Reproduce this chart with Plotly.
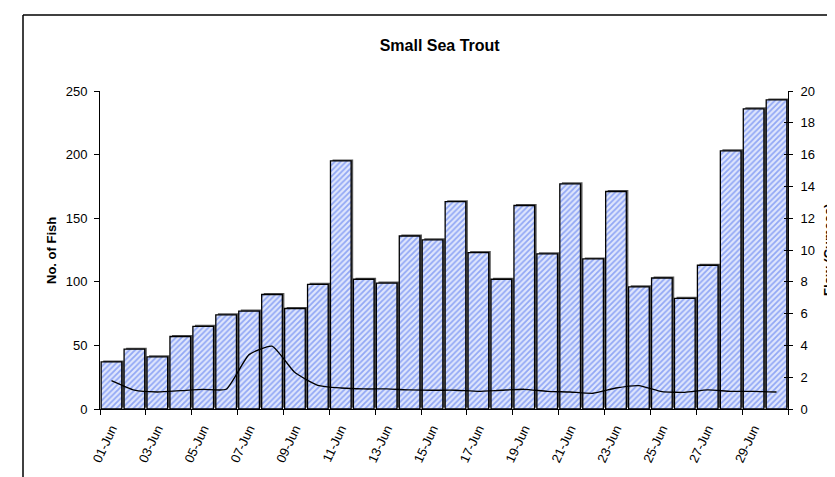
import plotly.graph_objects as go

days = [f"{d:02d}-Jun" for d in range(1, 31)]
fish = [37, 47, 41, 57, 65, 74, 77, 90, 79, 98,
        195, 102, 99, 136, 133, 163, 123, 102, 160, 122,
        177, 118, 171, 96, 103, 87, 113, 203, 236, 243]
flow = [1.78, 1.18, 1.07, 1.15, 1.24, 1.24, 3.42, 3.95, 2.29, 1.49,
        1.32, 1.26, 1.26, 1.20, 1.18, 1.18, 1.11, 1.18, 1.24, 1.11,
        1.07, 0.99, 1.32, 1.47, 1.09, 1.05, 1.20, 1.11, 1.11, 1.07]
label_days = days[::2]
left_ticks = [0, 50, 100, 150, 200, 250]
right_ticks = list(range(0, 21, 2))

FONT = "Liberation Sans, Arial, sans-serif"
W, H = 835, 477
L, R, T, B = 92, 780, 83, 401

fig = go.Figure()
# shadow bars (drawn behind, a touch taller and shifted right)
fig.add_trace(go.Bar(x=days, y=fish, width=0.9, offset=-0.36, base=1.2,
                     marker=dict(color="#5a5a5a", line=dict(width=0)),
                     hoverinfo="skip", showlegend=False))
fig.add_trace(go.Bar(x=days, y=fish, width=0.9, offset=-0.45, name="No. of Fish",
                     marker=dict(color="#c9d5fa",
                                 line=dict(color="black", width=1.3),
                                 pattern=dict(shape="/", fgcolor="#4467ee", bgcolor="#dfe6fc",
                                              size=4, solidity=0.45)),
                     showlegend=False))
fig.add_trace(go.Scatter(x=days, y=flow, yaxis="y2", mode="lines", name="Flow",
                         line=dict(color="black", width=1.3, shape="spline", smoothing=0.5),
                         showlegend=False))
# helper invisible trace for extra tick axes
fig.add_trace(go.Scatter(x=[0], y=[0], xaxis="x2", yaxis="y3", mode="markers",
                         marker=dict(opacity=0), hoverinfo="skip", showlegend=False))

fig.update_layout(
    width=W, height=H,
    margin=dict(l=L, r=W - R, t=T, b=H - B, pad=0),
    paper_bgcolor="white", plot_bgcolor="white",
    barmode="overlay",
    font=dict(family=FONT, size=13, color="black"),
    title=dict(text="<b>Small Sea Trout</b>", x=0.517, xanchor="center",
               y=1 - 37 / H, yanchor="middle", font=dict(size=16, family=FONT)),
    xaxis=dict(type="category", range=[-0.5, 29.5], tickmode="array",
               tickvals=label_days, ticktext=label_days, ticks="",
               tickangle=-65, showline=True, linecolor="black", linewidth=1,
               showgrid=False, tickfont=dict(size=13), ticklabelstandoff=6),
    xaxis2=dict(overlaying="x", range=[-0.5, 29.5], tickmode="array",
                tickvals=[-0.5 + 2 * k for k in range(16)], ticks="outside",
                ticklen=5, tickcolor="black", showticklabels=False,
                showgrid=False, showline=False, zeroline=False, anchor="y"),
    yaxis=dict(range=[0, 250], tickvals=left_ticks, ticks="outside", ticklen=5,
               tickcolor="black", showline=True, linecolor="black", linewidth=1,
               showgrid=False, zeroline=False, ticklabelstandoff=4),
    yaxis2=dict(range=[0, 20], tickvals=right_ticks, overlaying="y", side="right",
                ticks="outside", ticklen=4, tickcolor="black", showline=True,
                linecolor="black", linewidth=1, showgrid=False, zeroline=False,
                ticklabelstandoff=5),
    yaxis3=dict(range=[0, 20], tickvals=right_ticks, overlaying="y", side="right",
                anchor="x2", ticks="inside", ticklen=4, tickcolor="black",
                showticklabels=False, showgrid=False, zeroline=False, showline=False),
    annotations=[
        dict(text="<b>No. of Fish</b>", xref="paper", yref="paper",
             x=(43 - L) / (R - L), y=(B - 243) / (B - T), textangle=-90,
             showarrow=False, font=dict(size=13), xanchor="center", yanchor="middle"),
        dict(text="<b>Flow (Cumecs)</b>", xref="paper", yref="paper",
             x=(820 - L) / (R - L), y=(B - 242) / (B - T), textangle=-90,
             showarrow=False, font=dict(size=13), xanchor="center", yanchor="middle"),
    ],
    shapes=[
        dict(type="line", xref="paper", yref="paper",
             x0=(15 - L) / (R - L), x1=(15 - L) / (R - L),
             y0=(B - 7) / (B - T), y1=(B - 490) / (B - T),
             line=dict(color="black", width=1.5)),
        dict(type="line", xref="paper", yref="paper",
             x0=(15 - L) / (R - L), x1=(850 - L) / (R - L),
             y0=(B - 7) / (B - T), y1=(B - 7) / (B - T),
             line=dict(color="black", width=1.5)),
    ],
)
fig.write_html("out.html")
